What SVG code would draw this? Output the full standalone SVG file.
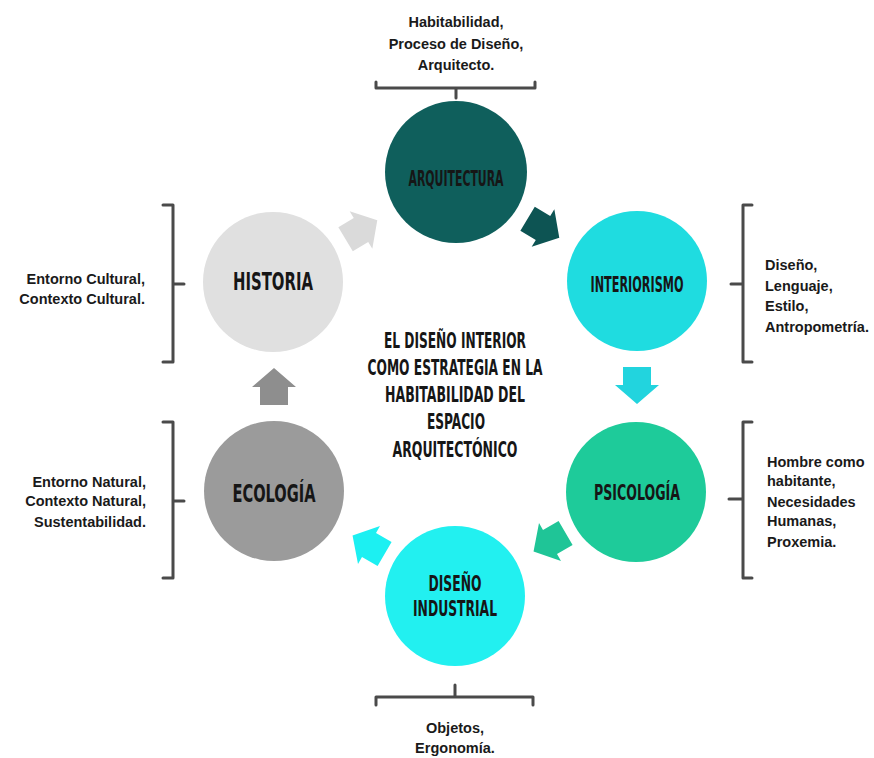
<svg xmlns="http://www.w3.org/2000/svg" width="874" height="758" viewBox="0 0 874 758">
<defs>
<style>
.lbl{font-family:"DejaVu Sans Condensed","DejaVu Sans",sans-serif;font-weight:bold;fill:#161616;text-anchor:middle}
.note{font-family:"Liberation Sans",Arial,sans-serif;font-weight:bold;font-size:14.5px;fill:#1a1a1a}
.br{fill:none;stroke:#4a4a4a;stroke-width:3;stroke-linejoin:round;stroke-linecap:round}
</style>
<path id="arr" d="M-18,-14 L0,-14 L0,-22 L19,0 L0,22 L0,14 L-18,14 Z"/>
</defs>
<rect width="874" height="758" fill="#ffffff"/>

<g id="connectors">
<use href="#arr" fill="#0d5453" transform="translate(543,228) rotate(31)"/>
<use href="#arr" fill="#22d4de" transform="translate(637,385) rotate(90)"/>
<use href="#arr" fill="#1fc597" transform="translate(550,542) rotate(150)"/>
<use href="#arr" fill="#1cf0f2" transform="translate(369,545) rotate(210)"/>
<use href="#arr" fill="#8e8e8e" transform="translate(274,387) rotate(-90)"/>
<use href="#arr" fill="#dadada" transform="translate(361,230) rotate(-31)"/>
</g>

<g id="arquitectura">
<circle cx="456" cy="172" r="71" fill="#0f5f5c"/>
<text class="lbl" x="456" y="186" font-size="22" textLength="95" lengthAdjust="spacingAndGlyphs">ARQUITECTURA</text>
</g>
<g id="interiorismo">
<circle cx="637" cy="281" r="70" fill="#1fdce0"/>
<text class="lbl" x="637" y="292" font-size="22" textLength="93" lengthAdjust="spacingAndGlyphs">INTERIORISMO</text>
</g>
<g id="psicologia">
<circle cx="636" cy="492" r="70" fill="#1ecb9a"/>
<text class="lbl" x="637" y="500" font-size="22" textLength="86" lengthAdjust="spacingAndGlyphs">PSICOLOGÍA</text>
</g>
<g id="diseno-industrial">
<circle cx="455" cy="596" r="70" fill="#22f0f0"/>
<text class="lbl" x="455" y="591" font-size="21" textLength="53" lengthAdjust="spacingAndGlyphs">DISEÑO</text>
<text class="lbl" x="455" y="616" font-size="21" textLength="84" lengthAdjust="spacingAndGlyphs">INDUSTRIAL</text>
</g>
<g id="ecologia">
<circle cx="274" cy="491" r="70" fill="#9b9b9b"/>
<text class="lbl" x="274" y="502" font-size="25" textLength="83" lengthAdjust="spacingAndGlyphs">ECOLOGÍA</text>
</g>
<g id="historia">
<circle cx="273" cy="282" r="70" fill="#e0e0e0"/>
<text class="lbl" x="273" y="290" font-size="25" textLength="80" lengthAdjust="spacingAndGlyphs">HISTORIA</text>
</g>

<g id="centro">
<text class="lbl" x="455" y="348" font-size="22" textLength="142" lengthAdjust="spacingAndGlyphs">EL DISEÑO INTERIOR</text>
<text class="lbl" x="455" y="375" font-size="22" textLength="175" lengthAdjust="spacingAndGlyphs">COMO ESTRATEGIA EN LA</text>
<text class="lbl" x="455" y="402" font-size="22" textLength="140" lengthAdjust="spacingAndGlyphs">HABITABILIDAD DEL</text>
<text class="lbl" x="456" y="429" font-size="22" textLength="58" lengthAdjust="spacingAndGlyphs">ESPACIO</text>
<text class="lbl" x="455" y="457" font-size="22" textLength="125" lengthAdjust="spacingAndGlyphs">ARQUITECTÓNICO</text>
</g>

<g id="nota-arquitectura">
<path class="br" d="M376,82 L376,88 L535,88 L535,82 M456,88 L456,98"/>
<text class="note" x="456" y="27" text-anchor="middle">Habitabilidad,</text>
<text class="note" x="456" y="49" text-anchor="middle">Proceso de Diseño,</text>
<text class="note" x="456" y="70" text-anchor="middle">Arquitecto.</text>
</g>
<g id="nota-interiorismo">
<path class="br" d="M752,205 L743,205 L743,362 L752,362 M743,284 L731,284"/>
<text class="note" x="765" y="270">Diseño,</text>
<text class="note" x="765" y="291">Lenguaje,</text>
<text class="note" x="765" y="311">Estilo,</text>
<text class="note" x="765" y="332">Antropometría.</text>
</g>
<g id="nota-psicologia">
<path class="br" d="M752,422 L743,422 L743,578 L752,578 M743,499 L729,499"/>
<text class="note" x="767" y="467">Hombre como</text>
<text class="note" x="767" y="486">habitante,</text>
<text class="note" x="767" y="507">Necesidades</text>
<text class="note" x="767" y="526">Humanas,</text>
<text class="note" x="767" y="547">Proxemia.</text>
</g>
<g id="nota-diseno">
<path class="br" d="M376,705 L376,697 L533,697 L533,705 M455,697 L455,685"/>
<text class="note" x="455" y="733" text-anchor="middle">Objetos,</text>
<text class="note" x="455" y="753" text-anchor="middle">Ergonomía.</text>
</g>
<g id="nota-ecologia">
<path class="br" d="M163,422 L173,422 L173,578 L163,578 M173,501 L184,501"/>
<text class="note" x="146" y="487" text-anchor="end">Entorno Natural,</text>
<text class="note" x="146" y="506" text-anchor="end">Contexto Natural,</text>
<text class="note" x="146" y="527" text-anchor="end">Sustentabilidad.</text>
</g>
<g id="nota-historia">
<path class="br" d="M163,205 L173,205 L173,362 L163,362 M173,284 L184,284"/>
<text class="note" x="145" y="284" text-anchor="end">Entorno Cultural,</text>
<text class="note" x="145" y="304" text-anchor="end">Contexto Cultural.</text>
</g>
</svg>
